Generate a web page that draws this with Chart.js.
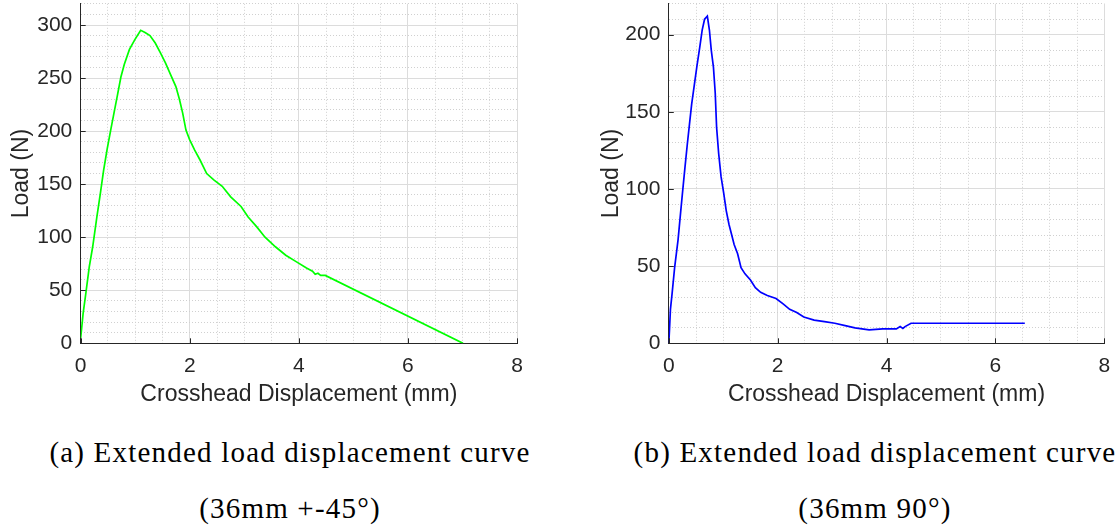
<!DOCTYPE html>
<html>
<head>
<meta charset="utf-8">
<script src="https://cdn.jsdelivr.net/npm/chart.js@4"></script>
<style>
  html, body { margin: 0; padding: 0; background: #fff; }
  body { width: 1120px; height: 525px; position: relative; overflow: hidden; }
  .cv { position: absolute; top: 0; }
  .cap { position: absolute; white-space: nowrap; transform: translateX(-50%);
         font-family: "Liberation Serif", "DejaVu Serif", serif; font-size: 29px;
         letter-spacing: 1.2px; line-height: 29px; color: #000; }
</style>
</head>
<body>
<canvas id="chartA" class="cv" style="left:0" width="560" height="420"></canvas>
<canvas id="chartB" class="cv" style="left:560px" width="560" height="420"></canvas>
<div class="cap" style="left:290px; top:438px">(a) Extended load displacement curve</div>
<div class="cap" style="left:290px; top:494px">(36mm +-45°)</div>
<div class="cap" style="left:875px; top:438px">(b) Extended load displacement curve</div>
<div class="cap" style="left:875px; top:494px">(36mm 90°)</div>
<script>
/* global Chart */
(function () {
    'use strict';

    // (a) 36mm +-45
    var dispA = [0, 0.044, 0.094, 0.157, 0.22, 0.296, 0.36, 0.42, 0.485, 0.55, 0.61, 0.674, 0.737, 0.8, 0.894, 0.99, 1.1, 1.18, 1.27, 1.367, 1.46, 1.556, 1.65, 1.745, 1.81, 1.87, 1.93, 1.997, 2.09, 2.186, 2.31, 2.44, 2.595, 2.75, 2.94, 3.07, 3.225, 3.38, 3.57, 3.76, 3.95, 4.14, 4.25, 4.3, 4.35, 4.4, 4.485, 7.01];
    var loadA = [5, 28, 47, 72, 91, 119, 141, 163, 183, 201, 217, 234, 251, 263, 277, 286, 295, 293, 290, 283, 274, 264, 253, 242, 230, 217, 201, 192, 182, 173, 160, 154, 148, 138, 129, 119, 110, 100, 91, 83, 77, 71, 68, 65, 66, 64, 64, 0];

    // (b) 36mm 90
    var dispB = [0, 0.013, 0.03, 0.06, 0.107, 0.17, 0.215, 0.25, 0.297, 0.34, 0.38, 0.42, 0.467, 0.518, 0.569, 0.613, 0.657, 0.708, 0.746, 0.78, 0.82, 0.853, 0.878, 0.916, 0.96, 1.01, 1.055, 1.106, 1.15, 1.2, 1.264, 1.327, 1.4, 1.5, 1.59, 1.687, 1.81, 1.97, 2.1, 2.22, 2.35, 2.48, 2.67, 2.86, 3.05, 3.24, 3.42, 3.68, 3.93, 4.18, 4.25, 4.3, 4.34, 4.45, 6.54];
    var loadB = [0, 9, 22, 32, 49, 67, 84, 97, 114, 129, 142, 155, 167, 180, 192, 203, 210, 212, 203, 190, 179, 162, 140, 123, 108, 97, 86, 77, 71, 64, 58, 49, 45, 41, 36, 33, 31, 29, 25.5, 22, 20, 17, 15, 14, 13, 11.5, 10, 8.7, 9.3, 9.3, 10.8, 9.6, 10.8, 13, 13];

    var xTicks = [0, 2, 4, 6, 8];
    var yTicksA = [0, 50, 100, 150, 200, 250, 300];
    var yTicksB = [0, 50, 100, 150, 200];

    var AXIS = '#262626';
    var TICKFONT = { family: 'Liberation Sans, Arial, sans-serif', size: 21 };
    var TITLEFONT = { family: 'Liberation Sans, Arial, sans-serif', size: 23 };

    function points(xs, ys) {
        return xs.map(function (x, i) { return { x: x, y: ys[i] }; });
    }

    function isMajor(list, v) {
        return list.some(function (m) { return Math.abs(m - v) < 1e-6; });
    }

    var tickMarks = {
        id: 'tickMarks',
        afterDatasetsDraw: function (chart, args, opts) {
            var c = chart.ctx, a = chart.chartArea;
            var xs = chart.scales.x, ys = chart.scales.y;
            c.save();
            c.strokeStyle = AXIS;
            c.lineWidth = 1;
            c.beginPath();
            xTicks.forEach(function (v) {
                var px = Math.round(xs.getPixelForValue(v)) + 0.5;
                c.moveTo(px, a.bottom); c.lineTo(px, a.bottom - 5);
            });
            opts.yMajor.forEach(function (v) {
                var py = Math.round(ys.getPixelForValue(v)) + 0.5;
                c.moveTo(a.left, py); c.lineTo(a.left + 5, py);
            });
            c.stroke();
            c.restore();
        }
    };

    function makeChart(id, xs, ys, color, yMax, yMajor, yAxisW, padRight, yTitlePad) {
        return new Chart(document.getElementById(id), {
            type: 'line',
            data: { datasets: [{ data: points(xs, ys), borderColor: color, borderWidth: 1.7, pointRadius: 0, tension: 0, fill: false }] },
            plugins: [tickMarks],
            options: {
                responsive: false,
                animation: false,
                layout: { padding: { left: 0, right: padRight, top: 3.8, bottom: 0 } },
                plugins: { legend: { display: false }, tooltip: { enabled: false }, tickMarks: { yMajor: yMajor } },
                scales: {
                    x: {
                        type: 'linear', min: 0, max: 8,
                        afterFit: function (s) { s.height = 76.7; s.paddingLeft = 0; s.paddingRight = 0; },
                        ticks: { stepSize: 0.5, autoSkip: false, maxRotation: 0, padding: 10, color: AXIS, font: TICKFONT,
                                 callback: function (v) { return isMajor(xTicks, v) ? String(v) : ''; } },
                        grid: { drawTicks: false,
                                color: function (ctx) { return ctx.tick && isMajor(xTicks, ctx.tick.value) ? '#dcdcdc' : '#d0d0d0'; } },
                        border: { color: AXIS, width: 1,
                                  dash: function (ctx) { return ctx.tick && !isMajor(xTicks, ctx.tick.value) ? [1, 2] : []; } },
                        title: { display: true, text: 'Crosshead Displacement (mm)', color: AXIS, font: TITLEFONT, padding: { top: 0, bottom: 11.7 } }
                    },
                    y: {
                        type: 'linear', min: 0, max: yMax,
                        afterFit: function (s) { s.width = yAxisW; s.paddingTop = 0; s.paddingBottom = 0; },
                        ticks: { stepSize: 10, autoSkip: false, padding: 8.4, color: AXIS, font: TICKFONT,
                                 callback: function (v) { return isMajor(yMajor, v) ? String(v) : ''; } },
                        grid: { drawTicks: false,
                                color: function (ctx) { return ctx.tick && isMajor(yMajor, ctx.tick.value) ? '#dcdcdc' : '#d0d0d0'; } },
                        border: { color: AXIS, width: 1,
                                  dash: function (ctx) { return ctx.tick && !isMajor(yMajor, ctx.tick.value) ? [1, 2] : []; } },
                        title: { display: true, text: 'Load (N)', color: AXIS, font: TITLEFONT, padding: { top: yTitlePad, bottom: 0 } }
                    }
                }
            }
        });
    }

    makeChart('chartA', dispA, loadA, '#00ff00', 320, yTicksA, 80.7, 43, 7.7);
    makeChart('chartB', dispB, loadB, '#0000ff', 220, yTicksB, 108.8, 15.7, 37.9);
})();
</script>
</body>
</html>
